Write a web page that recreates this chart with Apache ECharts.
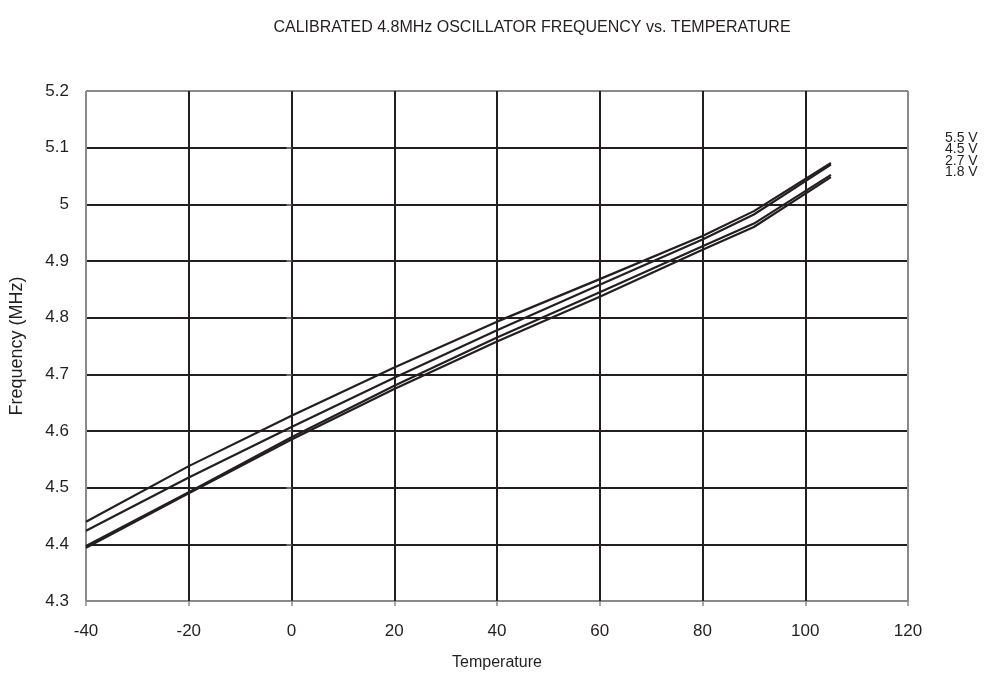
<!DOCTYPE html>
<html>
<head>
<meta charset="utf-8">
<script src="https://cdn.jsdelivr.net/npm/echarts@6/dist/echarts.min.js"></script>
<style>
html,body{margin:0;padding:0;background:#fff;}
#chart{width:988px;height:677px;}
</style>
</head>
<body>
<div id="chart"></div>
<script>
var chartTitle = 'CALIBRATED 4.8MHz OSCILLATOR FREQUENCY vs. TEMPERATURE';
var xAxisName = 'Temperature';
var yAxisName = 'Frequency (MHz)';
var temperatures = [-40, -20, 0, 20, 40, 60, 80, 90, 105];
var seriesNames = ['5.5 V', '4.5 V', '2.7 V', '1.8 V'];
var freq55 = [4.440, 4.538, 4.627, 4.712, 4.793, 4.868, 4.944, 4.988, 5.073];
var freq45 = [4.424, 4.518, 4.607, 4.694, 4.778, 4.858, 4.938, 4.982, 5.070];
var freq27 = [4.397, 4.492, 4.589, 4.680, 4.765, 4.845, 4.926, 4.966, 5.052];
var freq18 = [4.394, 4.490, 4.585, 4.674, 4.758, 4.837, 4.920, 4.960, 5.048];
var seriesValues = [freq55, freq45, freq27, freq18];

var ink = '#231f20';
var border = '#8a8a8a';
var font = 'Liberation Sans, Arial, sans-serif';

function splitColors(n) {
  var arr = [border];
  for (var i = 0; i < n - 2; i++) arr.push(ink);
  return arr;
}

var chart = echarts.init(document.getElementById('chart'));
chart.setOption({
  animation: false,
  backgroundColor: '#fff',
  title: {
    text: chartTitle,
    left: 527, top: 15, textAlign: 'center',
    textStyle: {fontFamily: font, fontSize: 16, fontWeight: 'normal', color: ink}
  },
  grid: {left: 86, right: 80, top: 91, bottom: 76, containLabel: false},
  xAxis: {
    type: 'value', min: -40, max: 120, interval: 20,
    name: xAxisName, nameLocation: 'middle', nameGap: 54,
    nameTextStyle: {fontFamily: font, fontSize: 16, color: ink},
    axisLine: {show: false},
    axisTick: {show: true, length: 5, lineStyle: {color: border, width: 1.5}},
    axisLabel: {fontFamily: font, fontSize: 17, color: ink, margin: 22},
    splitLine: {show: true, lineStyle: {color: splitColors(9), width: 2}}
  },
  yAxis: {
    type: 'value', min: 4.3, max: 5.2, interval: 0.1,
    name: yAxisName, nameLocation: 'middle', nameGap: 60, nameRotate: 90,
    nameTextStyle: {fontFamily: font, fontSize: 18, color: ink},
    axisLine: {show: false},
    axisTick: {show: true, length: 5, lineStyle: {color: border, width: 1.5}},
    axisLabel: {fontFamily: font, fontSize: 17, color: ink, margin: 17},
    splitLine: {show: true, lineStyle: {color: splitColors(10), width: 2}}
  },
  graphic: [{
    type: 'text', left: 945, top: 131,
    style: {
      text: seriesNames.join('\n'),
      font: '14px ' + font, fill: ink, lineHeight: 11.5
    }
  }],
  series: seriesValues.map(function (vals, k) {
    return {
      name: seriesNames[k], type: 'line', symbol: 'none',
      lineStyle: {color: ink, width: 2.2},
      data: temperatures.map(function (t, i) { return [t, vals[i]]; })
    };
  })
});
</script>
</body>
</html>
